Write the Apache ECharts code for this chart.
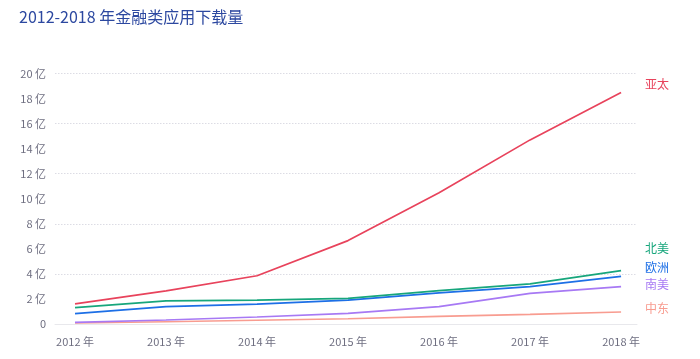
<!DOCTYPE html>
<html><head><meta charset="utf-8">
<script src="https://cdn.jsdelivr.net/npm/echarts@6/dist/echarts.min.js"></script>
<style>html,body{margin:0;padding:0;background:#fff}#c{width:700px;height:359px}</style>
</head><body><div id="c"></div>
<script>
const years = [2012, 2013, 2014, 2015, 2016, 2017, 2018];
const yTicks = [0, 2, 4, 6, 8, 10, 12, 14, 16, 18, 20];
const names = ['亚太', '北美', '欧洲', '南美', '中东'];
const asiaPacific = [1.6, 2.65, 3.85, 6.66, 10.48, 14.7, 18.48];
const northAmerica = [1.3, 1.84, 1.9, 2.05, 2.66, 3.2, 4.26];
const europe = [0.83, 1.38, 1.58, 1.9, 2.48, 2.98, 3.8];
const southAmerica = [0.13, 0.32, 0.56, 0.85, 1.38, 2.45, 2.98];
const middleEast = [0.08, 0.18, 0.3, 0.42, 0.61, 0.77, 0.96];

const seriesValues = [asiaPacific, northAmerica, europe, southAmerica, middleEast];
const colors = ['#e8435c', '#17a67c', '#1d6fe6', '#a779f4', '#f89c90'];
const labelOffsets = [[24, -8], [24, -22], [24, -9], [24, -2], [24, -4]];

const font = 'Noto Sans CJK SC, Noto Sans, sans-serif';
const chart = echarts.init(document.getElementById('c'), null, {renderer: 'canvas'});
chart.setOption({
  animation: false,
  title: {
    text: '2012-2018 年金融类应用下载量',
    left: 14, top: 4,
    textStyle: {fontSize: 16, fontWeight: 'normal', color: '#2c48a0', fontFamily: font}
  },
  grid: {left: 55, right: 63, top: 73.5, bottom: 35, containLabel: false},
  xAxis: {
    type: 'value',
    min: 2011.78, max: 2018.175,
    axisLine: {show: true, lineStyle: {color: '#e8e8ec', width: 1}},
    axisTick: {show: false},
    splitLine: {show: false},
    axisLabel: {
      customValues: years,
      color: '#6e6e80', fontSize: 11, fontFamily: font, margin: 12,
      formatter: v => v + ' 年'
    }
  },
  yAxis: [{
    type: 'value',
    min: 0, max: 20, interval: 2,
    axisLine: {show: false},
    axisTick: {show: false},
    axisLabel: {
      color: '#6e6e80', fontSize: 11, fontFamily: font, margin: 9,
      formatter: v => v === 0 ? '0' : v + ' 亿'
    },
    splitLine: {show: false}
  }, {
    type: 'value',
    position: 'left',
    min: 0, max: 20, interval: 4,
    axisLine: {show: false},
    axisTick: {show: false},
    axisLabel: {show: false},
    splitLine: {
      show: true,
      lineStyle: {color: '#dcdce4', type: [1.5, 1.5], width: 1}
    }
  }],
  series: names.map((n, k) => ({
    name: n,
    type: 'line',
    yAxisIndex: 0,
    data: years.map((y, i) => [y, seriesValues[k][i]]),
    symbol: 'none',
    lineStyle: {color: colors[k], width: 1.7},
    itemStyle: {color: colors[k]},
    z: 10 - k,
    endLabel: {
      show: true,
      formatter: '{a}',
      color: colors[k],
      fontSize: 12,
      fontFamily: font,
      offset: labelOffsets[k],
      distance: 0
    }
  }))
});
</script></body></html>
